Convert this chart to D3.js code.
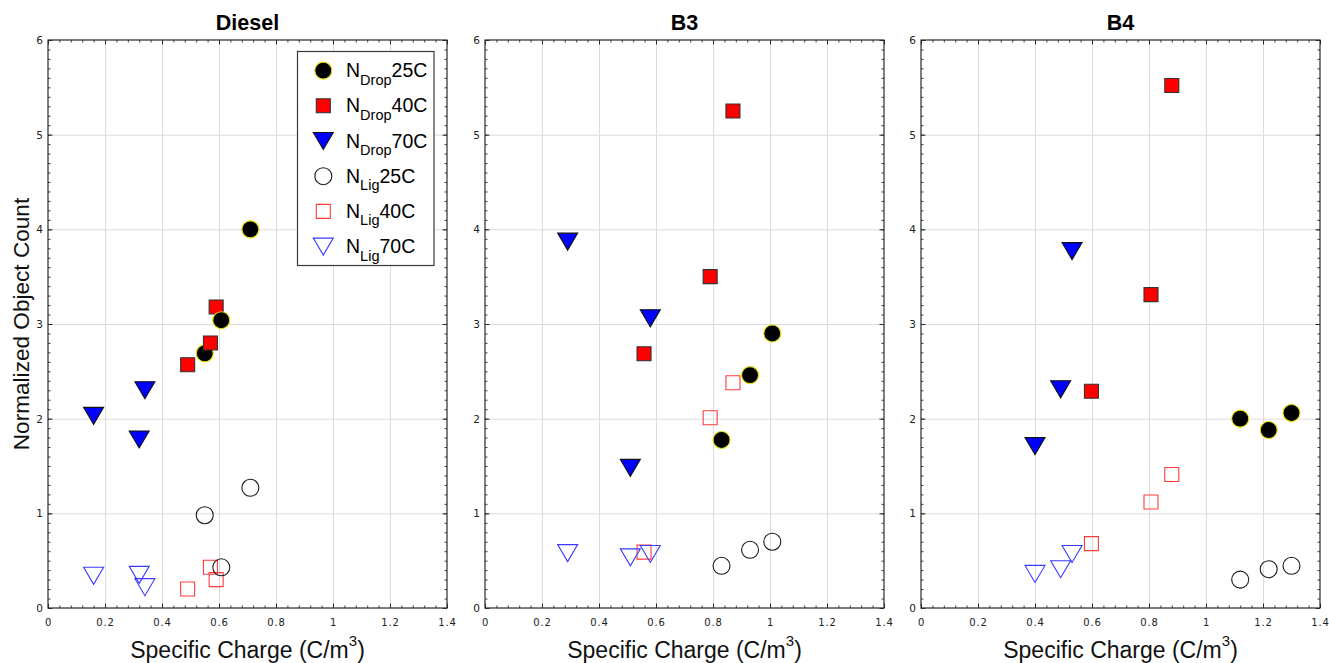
<!DOCTYPE html>
<html>
<head>
<meta charset="utf-8">
<script src="https://cdn.jsdelivr.net/npm/d3@7"></script>
<style>
  html, body { margin: 0; padding: 0; background: #fff; }
  svg { display: block; }
  text { font-family: "Liberation Sans", Arial, Helvetica, sans-serif; }
  .tick text { font-family: "DejaVu Sans", sans-serif; }
</style>
</head>
<body>
<svg id="chart" width="1329" height="663"></svg>
<script>
// Panels (fuel types)
const panelTitles = ["Diesel", "B3", "B4"];

// Series names, shown in the legend as N<sub>...</sub> + temperature
const seriesMain = ["N", "N", "N", "N", "N", "N"];
const seriesSub  = ["Drop", "Drop", "Drop", "Lig", "Lig", "Lig"];
const seriesTemp = ["25C", "40C", "70C", "25C", "40C", "70C"];

// Specific charge (C/m^3) per panel and series
const dieselX = [
  [0.55, 0.71, 0.608],
  [0.57, 0.59, 0.49],
  [0.16, 0.34, 0.32],
  [0.55, 0.71, 0.608],
  [0.57, 0.59, 0.49],
  [0.16, 0.34, 0.32]
];
const dieselY = [
  [2.69, 4.00, 3.04],
  [2.80, 3.18, 2.57],
  [2.03, 2.30, 1.78],
  [0.98, 1.27, 0.43],
  [0.43, 0.30, 0.20],
  [0.34, 0.22, 0.35]
];

const b3X = [
  [0.83, 0.93, 1.008],
  [0.558, 0.79, 0.87],
  [0.29, 0.51, 0.58],
  [0.83, 0.93, 1.008],
  [0.558, 0.79, 0.87],
  [0.29, 0.51, 0.58]
];
const b3Y = [
  [1.775, 2.46, 2.90],
  [2.685, 3.50, 5.25],
  [3.87, 1.48, 3.06],
  [0.446, 0.615, 0.70],
  [0.59, 2.01, 2.38],
  [0.58, 0.535, 0.57]
];

const b4X = [
  [1.12, 1.22, 1.30],
  [0.598, 0.807, 0.88],
  [0.40, 0.49, 0.53],
  [1.12, 1.22, 1.30],
  [0.598, 0.807, 0.88],
  [0.40, 0.49, 0.53]
];
const b4Y = [
  [2.00, 1.88, 2.06],
  [2.29, 3.31, 5.52],
  [1.71, 2.31, 3.77],
  [0.30, 0.41, 0.446],
  [0.68, 1.12, 1.41],
  [0.36, 0.41, 0.57]
];

// Axis ticks
const xTicks = [0, 0.2, 0.4, 0.6, 0.8, 1, 1.2, 1.4];
const yTicks = [0, 1, 2, 3, 4, 5, 6];
const xDomain = [0, 1.4];
const yDomain = [0, 6];

const panelX = [dieselX, b3X, b4X];
const panelY = [dieselY, b3Y, b4Y];

// Marker appearance per series
const markerShape = ["circle", "square", "triangle", "circle", "square", "triangle"];
const markerFill   = ["#000000", "#ff0000", "#0000ff", "none", "none", "none"];
const markerStroke = ["#e8e000", "#333333", "#111111", "#1a1a1a", "#ff3b3b", "#3a3aff"];

const svg = d3.select("#chart");

const panelLeft = [48, 485, 921];
const plotTop = 40;
const plotW = 399;
const plotH = 568;

function markerPath(shape) {
  if (shape === "circle") {
    const r = 8.5;
    return `M${-r},0A${r},${r} 0 1,0 ${r},0A${r},${r} 0 1,0 ${-r},0Z`;
  }
  if (shape === "square") {
    const h = 7;
    return `M${-h},${-h}H${h}V${h}H${-h}Z`;
  }
  // downward triangle, centred on its bounding box
  const w = 10, hh = 8.5;
  return `M${-w},${-hh}H${w}L0,${hh}Z`;
}

function drawMarker(g, s, px, py) {
  g.append("path")
    .attr("d", markerPath(markerShape[s]))
    .attr("transform", `translate(${px},${py})`)
    .attr("fill", markerFill[s])
    .attr("stroke", markerStroke[s])
    .attr("stroke-width", 1.1);
}

const fmt = d => String(+d.toFixed(1));

panelTitles.forEach((title, p) => {
  const g = svg.append("g").attr("transform", `translate(${panelLeft[p]},${plotTop})`);
  const x = d3.scaleLinear().domain(xDomain).range([0, plotW]);
  const y = d3.scaleLinear().domain(yDomain).range([plotH, 0]);

  // background
  g.append("rect").attr("width", plotW).attr("height", plotH).attr("fill", "#fff");

  // grid lines
  g.append("g")
    .attr("transform", `translate(0,${plotH})`)
    .call(d3.axisBottom(x).tickValues(xTicks.slice(1, -1)).tickSize(-plotH).tickFormat(""))
    .call(a => a.select(".domain").remove())
    .call(a => a.selectAll("line").attr("stroke", "#dcdcdc").attr("stroke-width", 1));
  g.append("g")
    .call(d3.axisLeft(y).tickValues(yTicks.slice(1, -1)).tickSize(-plotW).tickFormat(""))
    .call(a => a.select(".domain").remove())
    .call(a => a.selectAll("line").attr("stroke", "#dcdcdc").attr("stroke-width", 1));

  const xMinor = d3.range(0, 1.4001, 0.04).map(v => +v.toFixed(2));
  const yMinor = d3.range(0, 6.0001, 0.1).map(v => +v.toFixed(1));
  const axisColor = "#2a2a2a";

  // minor ticks on all four sides
  const minor = [
    [d3.axisBottom(x).tickValues(xMinor), `translate(0,${plotH})`],
    [d3.axisTop(x).tickValues(xMinor), ""],
    [d3.axisLeft(y).tickValues(yMinor), ""],
    [d3.axisRight(y).tickValues(yMinor), `translate(${plotW},0)`]
  ];
  minor.forEach(([ax, tr]) => {
    g.append("g").attr("transform", tr)
      .call(ax.tickSize(-2.5).tickFormat(""))
      .call(a => a.select(".domain").remove())
      .call(a => a.selectAll("line").attr("stroke", axisColor).attr("stroke-width", 0.9));
  });

  // major ticks + labels
  g.append("g").attr("transform", `translate(0,${plotH})`)
    .call(d3.axisBottom(x).tickValues(xTicks).tickSizeInner(-4.5).tickSizeOuter(0).tickPadding(11).tickFormat(fmt))
    .call(a => a.select(".domain").remove())
    .call(a => a.selectAll("line").attr("stroke", axisColor))
    .call(a => a.selectAll("text").attr("font-size", 10).attr("letter-spacing", 0.8)
      .attr("fill", "#222"));
  g.append("g")
    .call(d3.axisTop(x).tickValues(xTicks).tickSizeInner(-4.5).tickSizeOuter(0).tickFormat(""))
    .call(a => a.select(".domain").remove())
    .call(a => a.selectAll("line").attr("stroke", axisColor));
  g.append("g")
    .call(d3.axisLeft(y).tickValues(yTicks).tickSizeInner(-4.5).tickSizeOuter(0).tickPadding(5).tickFormat(fmt))
    .call(a => a.select(".domain").remove())
    .call(a => a.selectAll("line").attr("stroke", axisColor))
    .call(a => a.selectAll("text").attr("font-size", 10.5).attr("fill", "#222"));
  g.append("g").attr("transform", `translate(${plotW},0)`)
    .call(d3.axisRight(y).tickValues(yTicks).tickSizeInner(-4.5).tickSizeOuter(0).tickFormat(""))
    .call(a => a.select(".domain").remove())
    .call(a => a.selectAll("line").attr("stroke", axisColor));

  // frame
  g.append("rect").attr("width", plotW).attr("height", plotH)
    .attr("fill", "none").attr("stroke", axisColor).attr("stroke-width", 1.2);

  // markers, drawn point by point across the series
  const mg = g.append("g");
  const xs = panelX[p], ys = panelY[p];
  const n = d3.max(xs, a => a.length);
  for (let i = 0; i < n; i++) {
    for (let s = 0; s < xs.length; s++) {
      if (i < xs[s].length) drawMarker(mg, s, x(xs[s][i]), y(ys[s][i]));
    }
  }

  // title
  svg.append("text")
    .attr("x", panelLeft[p] + plotW / 2).attr("y", 30)
    .attr("text-anchor", "middle")
    .attr("font-size", 21.5).attr("font-weight", "bold").attr("fill", "#000")
    .text(title);

  // x-axis label
  const xl = svg.append("text")
    .attr("x", panelLeft[p] + plotW / 2).attr("y", 657.5)
    .attr("text-anchor", "middle")
    .attr("font-size", 23).attr("fill", "#111");
  xl.append("tspan").text("Specific Charge (C/m");
  xl.append("tspan").attr("font-size", 15).attr("dy", -12).text("3");
  xl.append("tspan").attr("dy", 12).text(")");
});

// y-axis label
svg.append("text")
  .attr("transform", `translate(28.5,${plotTop + plotH / 2}) rotate(-90)`)
  .attr("text-anchor", "middle")
  .attr("font-size", 22.6).attr("fill", "#111")
  .text("Normalized Object Count");

// legend
const lg = svg.append("g");
lg.append("rect")
  .attr("x", 297.5).attr("y", 51.5).attr("width", 136.5).attr("height", 214)
  .attr("fill", "#fff").attr("stroke", "#3a3a3a").attr("stroke-width", 1.2);
const rowY = d3.scaleLinear().domain([0, 5]).range([70.6, 246.6]);
seriesMain.forEach((m, s) => {
  const cy = rowY(s);
  drawMarker(lg, s, 323.3, cy);
  const t = lg.append("text")
    .attr("x", 346).attr("y", cy + 6.5)
    .attr("font-size", 19.5).attr("fill", "#000");
  t.append("tspan").text(m);
  t.append("tspan").attr("font-size", 14.5).attr("dy", 7.5).text(seriesSub[s]);
  t.append("tspan").attr("dy", -7.5).text(seriesTemp[s]);
});
</script>
</body>
</html>
